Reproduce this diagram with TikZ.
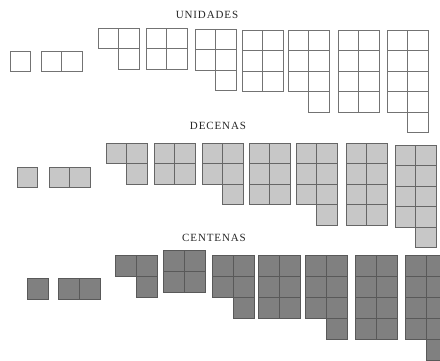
\documentclass[tikz,border=0pt]{standalone}
\usepackage{fontspec}
\setmainfont{Liberation Serif}
\newfontfamily\titlefont[LetterSpace=8]{Liberation Serif}
\tikzset{
  unitsq/.style={draw=black!55, fill=white, line width=0.6pt},
  tensq/.style={draw=black!60, fill=black!22, line width=0.6pt},
  hundsq/.style={draw=black!65, fill=black!50, line width=0.6pt},
  title/.style={font=\titlefont\fontsize{11}{13}\selectfont, text=black!85, inner sep=0pt}
}
\newcommand\grp[5]{%
  \pgfmathtruncatemacro\nleft{floor(#1/2)}%
  \pgfmathtruncatemacro\nright{#1-\nleft}%
  \ifnum#1=1
    \draw[#5] (#2,#3) rectangle ++(#4,#4);
  \else
    \foreach \i in {1,...,\nleft}{\draw[#5] (#2,{#3+(\i-1)*#4}) rectangle ++(#4,#4);}
    \foreach \i in {1,...,\nright}{\draw[#5] ({#2+#4},{#3+(\i-1)*#4}) rectangle ++(#4,#4);}
  \fi
}
\begin{document}
\begin{tikzpicture}[x=1pt,y=-1pt]
\useasboundingbox (0,0) rectangle (440,360);
\clip (0,0) rectangle (440,360);
\fill[white] (0,0) rectangle (440,360);
\node[title] (tu) at (207,14.5) {UNIDADES};
\node[title] (td) at (218,126) {DECENAS};
\node[title] (tc) at (214,237.5) {CENTENAS};
\foreach \n/\x/\y in {1/10/51, 2/41/51, 3/98/28, 4/146/28, 5/195/29, 6/242/30, 7/288/30, 8/338/30, 9/387/30}
  {\grp{\n}{\x}{\y}{20.5}{unitsq}}
\foreach \n/\x/\y in {1/17/167, 2/49/167, 3/106/143, 4/154/143, 5/202/143, 6/249/143, 7/296/143, 8/346/143, 9/395/145}
  {\grp{\n}{\x}{\y}{20.5}{tensq}}
\foreach \n/\x/\y in {1/27/278, 2/58/278, 3/115/255, 4/163/250, 5/212/255, 6/258/255, 7/305/255, 8/355/255, 9/405/255}
  {\grp{\n}{\x}{\y}{21}{hundsq}}
\end{tikzpicture}
\end{document}
